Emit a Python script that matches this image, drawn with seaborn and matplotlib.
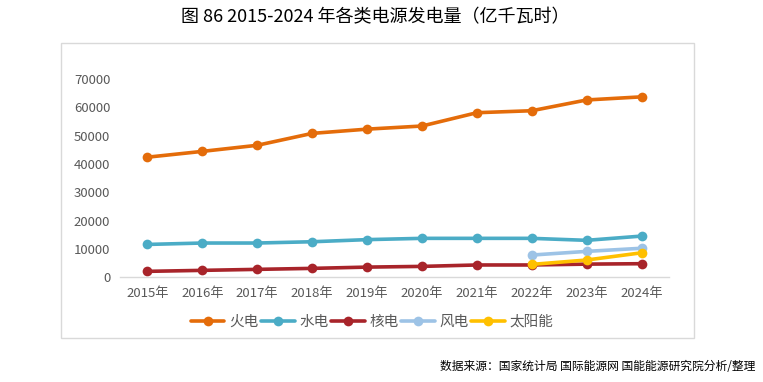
import matplotlib
matplotlib.use('agg')
import matplotlib.pyplot as plt
from matplotlib.patches import Rectangle
import numpy as np
import pandas as pd
import seaborn as sns

years = ['2015年', '2016年', '2017年', '2018年', '2019年',
         '2020年', '2021年', '2022年', '2023年', '2024年']
thermal = [42400, 44450, 46600, 50800, 52300, 53400, 58100, 58800, 62600, 63700]
hydro = [11600, 12100, 12100, 12550, 13300, 13750, 13750, 13750, 13050, 14550]
nuclear = [2100, 2450, 2800, 3150, 3600, 3850, 4350, 4350, 4650, 4800]
wind = [np.nan] * 7 + [7850, 9150, 10250]
solar = [np.nan] * 7 + [4550, 6100, 8650]

series_names = ['火电', '水电', '核电', '风电', '太阳能']
colors = ['#E46C0A', '#4BACC6', '#A8242A', '#9DC3E6', '#FFC000']

df = pd.DataFrame({'年份': years, '火电': thermal, '水电': hydro,
                   '核电': nuclear, '风电': wind, '太阳能': solar})
long_df = df.melt(id_vars='年份', var_name='类型', value_name='发电量').dropna()
long_df['x'] = long_df['年份'].map({y: i for i, y in enumerate(years)})

sns.set_style('white')
plt.rcParams['font.family'] = ['Noto Sans CJK SC', 'DejaVu Sans']

fig = plt.figure(figsize=(7.63, 3.82), dpi=100)
ax = fig.add_axes([120 / 763, 1 - 277.3 / 382, 549 / 763, 198.3 / 382])

sns.lineplot(data=long_df, x='x', y='发电量', hue='类型', hue_order=series_names,
             palette=colors, marker='o', markersize=7, markeredgewidth=0,
             linewidth=2.6, dashes=False, ax=ax, legend=False)

ax.set_xlim(-0.5, 9.5)
ax.set_ylim(0, 70000)
ax.set_xticks(range(len(years)))
ax.set_xticklabels(years)
ax.set_yticks(range(0, 70001, 10000))
ax.set_xlabel('')
ax.set_ylabel('')
ax.tick_params(axis='both', length=0, labelsize=9.5, labelcolor='#595959', pad=7)
for s in ['top', 'left', 'right']:
    ax.spines[s].set_visible(False)
ax.spines['bottom'].set_color('#D9D9D9')
ax.spines['bottom'].set_linewidth(1)

handles = [plt.Line2D([], [], color=c, linewidth=2.6, marker='o', markersize=7,
                      markeredgewidth=0) for c in colors]
fig.legend(handles, series_names, loc='center', bbox_to_anchor=(372 / 763, 1 - 322 / 382),
           ncol=5, frameon=False, fontsize=10.5, handlelength=2.3, handletextpad=0.3,
           columnspacing=0.2, labelcolor='#595959')

fig.patches.append(Rectangle((61 / 763, 1 - 338 / 382), 633 / 763, 295 / 382,
                             transform=fig.transFigure, fill=False,
                             edgecolor='#D9D9D9', linewidth=1))

fig.text(375 / 763, 1 - 17 / 382, '图 86 2015-2024 年各类电源发电量（亿千瓦时）',
         ha='center', va='center', fontsize=13, color='#000000')
fig.text(755 / 763, 1 - 367 / 382, '数据来源：国家统计局 国际能源网 国能能源研究院分析/整理',
         ha='right', va='center', fontsize=8.5, color='#000000')

fig.savefig('out.png', dpi=100)
